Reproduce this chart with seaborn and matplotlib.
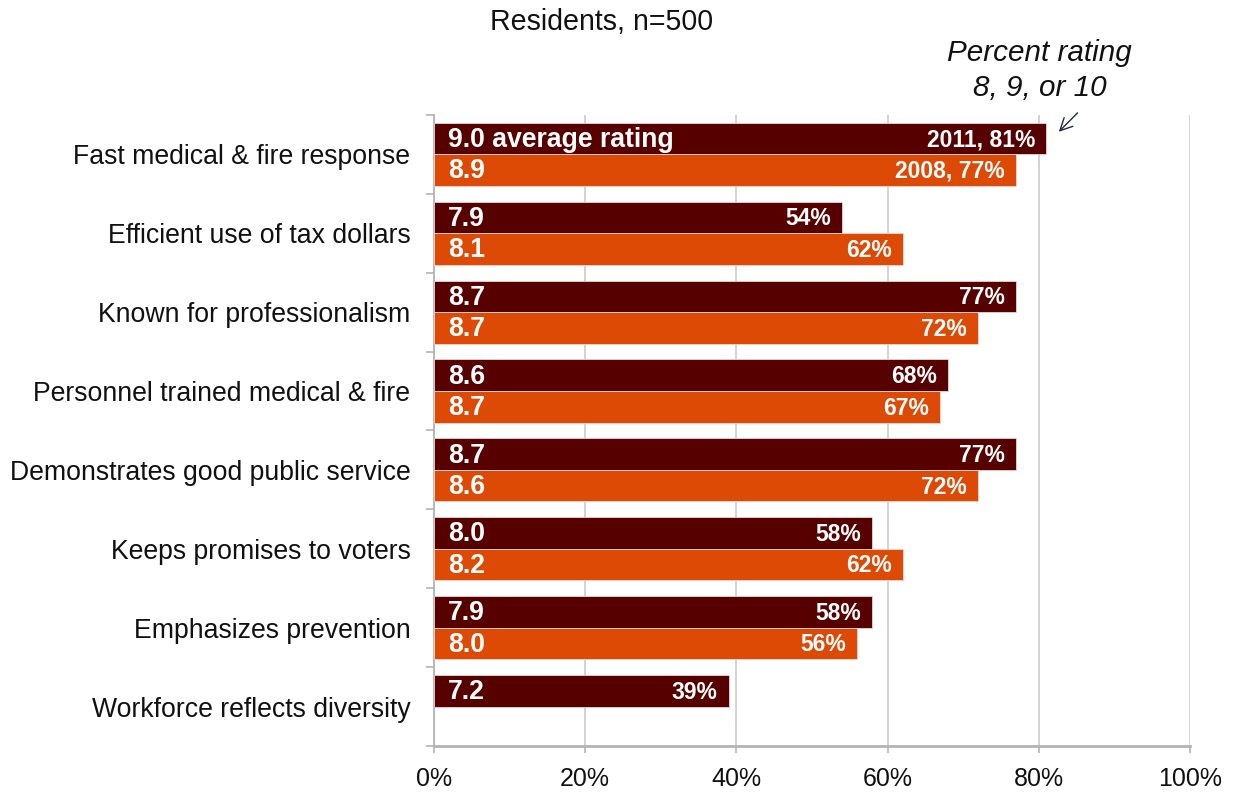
import numpy as np
import pandas as pd
import matplotlib
matplotlib.use("Agg")
import matplotlib.pyplot as plt
from matplotlib.ticker import FixedLocator, FuncFormatter
import seaborn as sns

# Survey items and results
items = [
    "Fast medical & fire response",
    "Efficient use of tax dollars",
    "Known for professionalism",
    "Personnel trained medical & fire",
    "Demonstrates good public service",
    "Keeps promises to voters",
    "Emphasizes prevention",
    "Workforce reflects diversity",
]
years = ["2011", "2008"]
pct_2011 = [81, 54, 77, 68, 77, 58, 58, 39]
pct_2008 = [77, 62, 72, 67, 72, 62, 56, np.nan]
avg_2011 = [9.0, 7.9, 8.7, 8.6, 8.7, 8.0, 7.9, 7.2]
avg_2008 = [8.9, 8.1, 8.7, 8.7, 8.6, 8.2, 8.0, np.nan]
x_ticks = [0, 20, 40, 60, 80, 100]

title_text = "Residents, n=500"
note_text = "Percent rating\n8, 9, or 10"

colors = {"2011": "#560000", "2008": "#DC4A05"}

df = pd.DataFrame({
    "item": items * 2,
    "year": ["2011"] * len(items) + ["2008"] * len(items),
    "pct": pct_2011 + pct_2008,
    "avg": avg_2011 + avg_2008,
}).dropna()

sns.set_theme(style="white")
plt.rcParams["font.family"] = ["Liberation Sans", "DejaVu Sans"]

fig = plt.figure(figsize=(12.33, 7.92), dpi=100)
ax = fig.add_axes([0.352, 0.058, 0.613, 0.797])

sns.barplot(
    data=df, y="item", x="pct", hue="year", hue_order=years, order=items,
    orient="h", palette=colors, width=0.8, saturation=1, legend=False,
    edgecolor="#EAD6D6", linewidth=0.6, ax=ax, zorder=3,
)

ax.set_xlim(0, 100)
ax.set_ylim(len(items) - 0.5, -0.5)
ax.xaxis.set_major_locator(FixedLocator(x_ticks))
ax.xaxis.set_major_formatter(FuncFormatter(lambda v, p: f"{v:.0f}%"))
ax.set_xlabel("")
ax.set_ylabel("")

ax.grid(axis="x", color="#C8C8C8", linewidth=1.1, zorder=0)
ax.grid(axis="y", visible=False)
ax.set_axisbelow(True)

for side in ("top", "right"):
    ax.spines[side].set_visible(False)
ax.spines["left"].set_color("#B4B4B4")
ax.spines["left"].set_linewidth(1.3)
ax.spines["bottom"].set_color("#B4B4B4")
ax.spines["bottom"].set_linewidth(2.0)

ax.yaxis.set_minor_locator(FixedLocator(np.arange(-0.5, len(items), 1.0)))
ax.tick_params(axis="y", which="major", length=0, pad=17, labelsize=19.2, labelcolor="#111111")
ax.tick_params(axis="y", which="minor", left=True, length=6, width=1.2, color="#B4B4B4")
ax.tick_params(axis="x", which="major", bottom=True, length=5, width=1.2, color="#B4B4B4",
               pad=10, labelsize=18, labelcolor="#111111")

# Value labels: average rating at bar start, percent at bar end
for year, container in zip(years, ax.containers):
    sub = df[df["year"] == year].set_index("item").reindex(items).dropna()
    for patch, (item, row) in zip(container.patches, sub.iterrows()):
        yc = patch.get_y() + patch.get_height() / 2
        first = item == items[0]
        left_lab = f"{row['avg']:.1f}" + (" average rating" if first and year == "2011" else "")
        right_lab = (f"{year}, " if first else "") + f"{row['pct']:.0f}%"
        ax.annotate(left_lab, xy=(0, yc), xytext=(10, -1), textcoords="offset points",
                    ha="left", va="center", color="white", fontsize=19.2,
                    fontweight="bold", zorder=5)
        ax.annotate(right_lab, xy=(row["pct"], yc), xytext=(-8, -1), textcoords="offset points",
                    ha="right", va="center", color="white", fontsize=16.5,
                    fontweight="bold", zorder=5)

# Note and arrow pointing at the top bar
ax.text(80.1, -1.06, note_text, ha="center", va="center", fontsize=21.3,
        style="italic", color="#111111", linespacing=1.3, clip_on=False)
ax.annotate("", xy=(82.4, -0.26), xytext=(85.4, -0.55),
            arrowprops=dict(arrowstyle="->", color="#1F2A44", lw=1.0,
                            mutation_scale=22),
            annotation_clip=False)

fig.text(0.4875, 0.972, title_text, ha="center", va="center", fontsize=20.6, color="#111111")

fig.savefig("out.png", dpi=100, facecolor="white")
